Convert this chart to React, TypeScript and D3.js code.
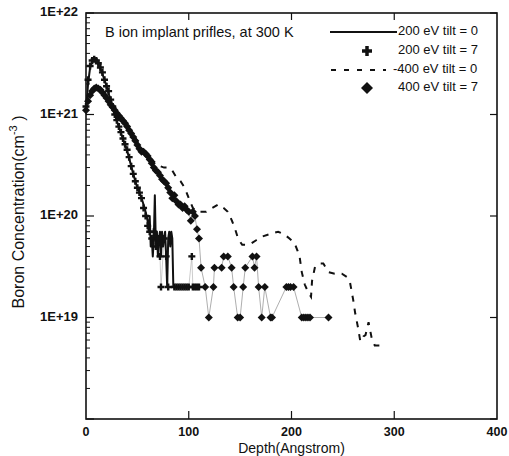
// Perfiles de implantación de boro (escala log)
import { useRef, useEffect } from 'react'
import * as d3 from 'd3'

const depth200t0 = [0, 2, 4, 6, 8, 10, 12, 14, 16, 18, 20, 22, 24, 26, 28, 30, 32, 34, 36, 38, 40, 42, 44, 46, 48, 50, 52, 54, 56, 58, 60, 61, 62, 63, 64, 65, 66, 67, 68, 69, 70, 71, 72, 73, 74, 75, 76, 77, 78, 79, 80, 81, 82, 83, 84, 85]
const conc200t0 = [1.1e21, 2.0e21, 2.9e21, 3.3e21, 3.4e21, 3.3e21, 3.1e21, 2.8e21, 2.5e21, 2.2e21, 1.9e21, 1.6e21, 1.4e21, 1.2e21, 1.0e21, 8.6e20, 7.5e20, 6.6e20, 5.7e20, 5.0e20, 4.4e20, 3.7e20, 3.1e20, 2.6e20, 2.2e20, 1.9e20, 1.7e20, 1.5e20, 1.3e20, 1.1e20, 9e19, 7e19, 1.0e20, 5e19, 6e19, 4e19, 6e19, 1.6e20, 5e19, 7e19, 4e19, 6e19, 7e19, 4e19, 7e19, 5e19, 6e19, 7e19, 4e19, 2e19, 6e19, 7e19, 5e19, 7e19, 6e19, 2e19]

const depth200t7 = [0, 2, 4, 6, 8, 10, 12, 14, 16, 18, 20, 22, 24, 26, 28, 30, 32, 34, 36, 38, 40, 42, 44, 46, 48, 50, 52, 54, 56, 58, 60, 62, 64, 66, 68, 70, 72, 73, 76, 78, 80, 86, 88, 90, 92, 94, 96, 98, 100, 103, 104, 106, 108, 110]
const conc200t7 = [1.2e21, 2.2e21, 3.0e21, 3.4e21, 3.5e21, 3.4e21, 3.2e21, 2.9e21, 2.6e21, 2.2e21, 1.9e21, 1.7e21, 1.4e21, 1.2e21, 1.0e21, 8.8e20, 7.6e20, 6.7e20, 5.8e20, 5.1e20, 4.5e20, 3.8e20, 3.1e20, 2.6e20, 2.2e20, 1.9e20, 1.7e20, 1.5e20, 1.2e20, 1.0e20, 8e19, 7e19, 6e19, 7e19, 5e19, 6e19, 4e19, 2e19, 6e19, 4e19, 2e19, 2e19, 2e19, 2e19, 2e19, 2e19, 2e19, 2e19, 2e19, 4e19, 2e19, 2e19, 2e19, 2e19]

const depth400t0 = [0, 3, 6, 9, 12, 15, 18, 21, 24, 27, 30, 33, 36, 40, 44, 48, 52, 56, 60, 64, 68, 72, 76, 80, 84, 88, 92, 96, 100, 104, 108, 112, 117, 123, 129, 134, 138, 142, 145, 148, 152, 156, 160, 166, 172, 180, 187, 193, 198, 203, 206, 208, 210, 213, 216, 219, 220, 223, 228, 231, 236, 242, 249, 254, 257, 260, 262, 265, 267, 270, 272, 275, 278, 281, 284, 290]
const conc400t0 = [1.1e21, 1.5e21, 1.75e21, 1.85e21, 1.85e21, 1.75e21, 1.6e21, 1.45e21, 1.3e21, 1.18e21, 1.08e21, 9.8e20, 9e20, 7.9e20, 6.9e20, 5.9e20, 5e20, 4.4e20, 4e20, 3.6e20, 3.3e20, 3.1e20, 3e20, 3e20, 2.8e20, 2.4e20, 2.2e20, 1.9e20, 1.5e20, 1.2e20, 1.1e20, 1.1e20, 1.1e20, 1.2e20, 1.3e20, 1.2e20, 1.1e20, 9e19, 7.5e19, 6e19, 5.2e19, 5.2e19, 5.3e19, 5.8e19, 6.3e19, 6.7e19, 7e19, 6.6e19, 6e19, 5.4e19, 4.5e19, 3.9e19, 2.8e19, 2.1e19, 1.8e19, 1.6e19, 2.3e19, 3.2e19, 3.4e19, 3.4e19, 2.8e19, 2.7e19, 2.7e19, 2.5e19, 2.2e19, 1.5e19, 1.1e19, 7.7e18, 5.8e18, 6.5e18, 6.7e18, 9e18, 6.3e18, 5.3e18, 5.3e18, 5.3e18]

const depth400t7 = [0, 2, 4, 6, 8, 10, 12, 14, 16, 18, 20, 22, 24, 26, 28, 30, 32, 34, 36, 38, 40, 42, 44, 46, 48, 50, 52, 54, 56, 58, 60, 62, 64, 66, 68, 70, 72, 74, 76, 78, 80, 82, 84, 86, 88, 90, 92, 94, 96, 98, 100, 102, 104, 106, 108, 110, 112, 116, 119.5, 124, 125, 132, 134, 138, 141.7, 143.7, 147.6, 150, 153, 155, 162, 164, 166, 168, 171, 174, 179.6, 181, 195, 197, 199, 202, 210, 212, 214, 216, 218, 236]
const conc400t7 = [1.1e21, 1.35e21, 1.55e21, 1.7e21, 1.8e21, 1.85e21, 1.8e21, 1.75e21, 1.65e21, 1.55e21, 1.45e21, 1.35e21, 1.25e21, 1.18e21, 1.1e21, 1.03e21, 9.7e20, 9.2e20, 8.7e20, 8.2e20, 7.6e20, 7e20, 6.5e20, 6e20, 5.5e20, 5e20, 4.6e20, 4.3e20, 4.3e20, 4.1e20, 3.9e20, 3.6e20, 3.3e20, 3e20, 2.8e20, 2.7e20, 2.5e20, 2.3e20, 2.2e20, 2.1e20, 1.9e20, 1.7e20, 1.5e20, 1.6e20, 1.4e20, 1.3e20, 1.3e20, 1.2e20, 1.25e20, 1.15e20, 1.1e20, 9e19, 1.1e20, 1.0e20, 7.4e19, 6e19, 3.1e19, 2e19, 1e19, 2e19, 3.1e19, 3.1e19, 4e19, 4e19, 3.1e19, 2e19, 1e19, 1e19, 2e19, 3.1e19, 4e19, 3.1e19, 4e19, 2e19, 1e19, 2e19, 1e19, 1e19, 2e19, 2e19, 2e19, 2e19, 1e19, 1e19, 1e19, 1e19, 1e19, 1e19]

const xTicks = [0, 100, 200, 300, 400]
const yTicks = [1e18, 1e19, 1e20, 1e21, 1e22]
const yTickLabels = ['', '1E+19', '1E+20', '1E+21', '1E+22']
const legendLabels = ['200 eV tilt = 0', '200 eV tilt = 7', '-400 eV tilt = 0', '400 eV tilt = 7']
const titleText = 'B ion implant prifles, at 300 K'

const FONT = '"Liberation Sans", Arial, sans-serif'

export default function App() {
  const svgRef = useRef<SVGSVGElement>(null)

  useEffect(() => {
    document.body.style.margin = '0'
    const width = 509
    const height = 456
    const m = { left: 86, right: 497, top: 13, bottom: 419 }

    const svg = d3.select(svgRef.current)
      .attr('width', width)
      .attr('height', height)
    svg.selectAll('*').remove()
    svg.append('rect').attr('width', width).attr('height', height).attr('fill', '#fff')

    const x = d3.scaleLinear().domain([0, 400]).range([m.left, m.right])
    const y = d3.scaleLog().domain([1e18, 1e22]).range([m.bottom, m.top])

    const ink = '#111'

    // marco
    svg.append('rect')
      .attr('x', m.left).attr('y', m.top)
      .attr('width', m.right - m.left).attr('height', m.bottom - m.top)
      .attr('fill', 'none').attr('stroke', ink).attr('stroke-width', 1.6)

    // ticks eje y (mayores y menores, hacia dentro)
    const minors: number[] = []
    for (let e = 18; e < 22; e++) for (let k = 2; k <= 9; k++) minors.push(k * Math.pow(10, e))
    svg.append('g').selectAll('line').data(minors).join('line')
      .attr('x1', m.left).attr('x2', m.left + 4)
      .attr('y1', d => y(d)).attr('y2', d => y(d))
      .attr('stroke', ink).attr('stroke-width', 1)
    svg.append('g').selectAll('line').data(yTicks).join('line')
      .attr('x1', m.left).attr('x2', m.left + 8)
      .attr('y1', d => y(d)).attr('y2', d => y(d))
      .attr('stroke', ink).attr('stroke-width', 1.2)
    svg.append('g').selectAll('line').data(yTicks).join('line')
      .attr('x1', m.right).attr('x2', m.right - 7)
      .attr('y1', d => y(d)).attr('y2', d => y(d))
      .attr('stroke', ink).attr('stroke-width', 1.2)

    svg.append('g').selectAll('text').data(yTicks).join('text')
      .attr('x', m.left - 8)
      .attr('y', d => y(d))
      .attr('text-anchor', 'end')
      .attr('dominant-baseline', 'middle')
      .attr('font-family', FONT).attr('font-size', '13px').attr('font-weight', 'bold')
      .attr('fill', ink)
      .text((d, i) => yTickLabels[i])

    // ticks eje x
    const inner = xTicks.slice(1, -1)
    svg.append('g').selectAll('line').data(inner).join('line')
      .attr('x1', d => x(d)).attr('x2', d => x(d))
      .attr('y1', m.bottom).attr('y2', m.bottom - 8)
      .attr('stroke', ink).attr('stroke-width', 1.2)
    svg.append('g').selectAll('line').data(inner).join('line')
      .attr('x1', d => x(d)).attr('x2', d => x(d))
      .attr('y1', m.top).attr('y2', m.top + 7)
      .attr('stroke', ink).attr('stroke-width', 1.2)
    svg.append('g').selectAll('text').data(xTicks).join('text')
      .attr('x', d => x(d))
      .attr('y', m.bottom + 17)
      .attr('text-anchor', 'middle')
      .attr('font-family', FONT).attr('font-size', '12.5px').attr('font-weight', 'bold')
      .attr('fill', ink)
      .text(d => d)

    // títulos de ejes
    svg.append('text')
      .attr('x', (m.left + m.right) / 2).attr('y', m.bottom + 34)
      .attr('text-anchor', 'middle')
      .attr('font-family', FONT).attr('font-size', '14px').attr('fill', ink)
      .text('Depth(Angstrom)')

    const yt = svg.append('text')
      .attr('transform', `translate(24, 212) rotate(-90)`)
      .attr('text-anchor', 'middle')
      .attr('font-family', FONT).attr('font-size', '16px').attr('fill', ink)
    yt.append('tspan').text('Boron Concentration(cm')
    yt.append('tspan').attr('dy', -7).attr('font-size', '11px').text('-3')
    yt.append('tspan').attr('dy', 7).text(' )')

    svg.append('text')
      .attr('x', 105).attr('y', 37)
      .attr('font-family', FONT).attr('font-size', '14.5px').attr('fill', ink)
      .text(titleText)

    // series
    const line = d3.line<[number, number]>().x(d => x(d[0])).y(d => y(d[1]))
    const zipped = (ds: number[], cs: number[]) => ds.map((d, i) => [d, cs[i]] as [number, number])

    const s200t0 = zipped(depth200t0, conc200t0)
    const s200t7 = zipped(depth200t7, conc200t7)
    const s400t0 = zipped(depth400t0, conc400t0)
    const s400t7 = zipped(depth400t7, conc400t7)

    // líneas finas que unen los marcadores
    svg.append('path').attr('d', line(s400t7)).attr('fill', 'none')
      .attr('stroke', '#777').attr('stroke-width', 0.6)
    svg.append('path').attr('d', line(s200t7)).attr('fill', 'none')
      .attr('stroke', '#999').attr('stroke-width', 0.5)

    svg.append('path').attr('d', line(s400t0)).attr('fill', 'none')
      .attr('stroke', ink).attr('stroke-width', 2)
      .attr('stroke-dasharray', '6,7')

    svg.append('path').attr('d', line(s200t0)).attr('fill', 'none')
      .attr('stroke', ink).attr('stroke-width', 2).attr('stroke-linejoin', 'round')

    const diamond = (r: number) => `M0,${-r}L${r},0L0,${r}L${-r},0Z`
    const plus = (r: number) => `M${-r},0H${r}M0,${-r}V${r}`

    svg.append('g').selectAll('path').data(s400t7).join('path')
      .attr('transform', d => `translate(${x(d[0])},${y(d[1])})`)
      .attr('d', diamond(4)).attr('fill', ink)

    svg.append('g').selectAll('path').data(s200t7).join('path')
      .attr('transform', d => `translate(${x(d[0])},${y(d[1])})`)
      .attr('d', plus(3.5)).attr('stroke', ink).attr('stroke-width', 2.4).attr('fill', 'none')

    // leyenda
    const ly = [32, 51, 70, 88]
    const lg = svg.append('g')
    lg.append('line').attr('x1', 330).attr('x2', 397).attr('y1', ly[0]).attr('y2', ly[0])
      .attr('stroke', ink).attr('stroke-width', 2)
    lg.append('path').attr('transform', `translate(367,${ly[1]})`).attr('d', plus(5))
      .attr('stroke', ink).attr('stroke-width', 3.5)
    lg.append('line').attr('x1', 331).attr('x2', 386).attr('y1', ly[2]).attr('y2', ly[2])
      .attr('stroke', ink).attr('stroke-width', 2).attr('stroke-dasharray', '5,8')
    lg.append('path').attr('transform', `translate(367,${ly[3]})`).attr('d', diamond(6)).attr('fill', ink)
    lg.selectAll('text').data(legendLabels).join('text')
      .attr('x', (d, i) => (i === 2 ? 393 : 398))
      .attr('y', (d, i) => ly[i])
      .attr('dominant-baseline', 'middle')
      .attr('font-family', FONT).attr('font-size', '13px').attr('fill', ink)
      .text(d => d)
  }, [])

  return <svg ref={svgRef} style={{ display: 'block' }} />
}
